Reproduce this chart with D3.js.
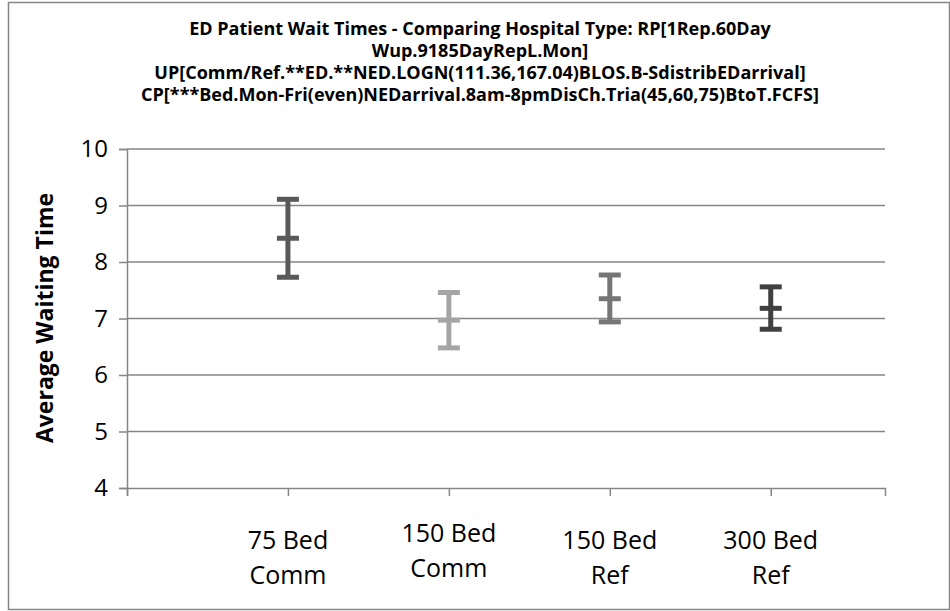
<!DOCTYPE html>
<html>
<head>
<meta charset="utf-8">
<script src="https://cdn.jsdelivr.net/npm/d3@7"></script>
<style>
  body { margin: 0; background: #fff; }
  text { font-family: "Open Sans", sans-serif; fill: #000; }
</style>
</head>
<body>
<svg id="chart" width="950" height="611"></svg>
<script>
// data
var categories = [['75 Bed', 'Comm'], ['150 Bed', 'Comm'], ['150 Bed', 'Ref'], ['300 Bed', 'Ref']];
var highs = [9.11, 7.46, 7.77, 7.56];
var means = [8.42, 6.97, 7.35, 7.18];
var lows  = [7.73, 6.48, 6.94, 6.81];
var yTicks = [4, 5, 6, 7, 8, 9, 10];
var colors = ['#595959', '#a5a5a5', '#767676', '#404040'];
var titleLines = [
  'ED Patient Wait Times - Comparing Hospital Type: RP[1Rep.60Day',
  'Wup.9185DayRepL.Mon]',
  'UP[Comm/Ref.**ED.**NED.LOGN(111.36,167.04)BLOS.B-SdistribEDarrival]',
  'CP[***Bed.Mon-Fri(even)NEDarrival.8am-8pmDisCh.Tria(45,60,75)BtoT.FCFS]'
];

var svg = d3.select('#chart');

// outer frame
svg.append('rect')
  .attr('x', 8.5).attr('y', 2.5)
  .attr('width', 941).attr('height', 607)
  .attr('fill', 'none').attr('stroke', '#868686').attr('stroke-width', 1.5);

var plotL = 127, plotR = 885, plotT = 149, plotB = 488;

var y = d3.scaleLinear().domain([4, 10]).range([plotB, plotT]);
// categories sit at 1..4, ticks at 0..4
var x = d3.scaleLinear().domain([0, 4.71]).range([plotL, plotR]);

// gridlines
svg.append('g').selectAll('line')
  .data(yTicks.slice(1))
  .enter().append('line')
  .attr('x1', plotL).attr('x2', plotR)
  .attr('y1', d => y(d)).attr('y2', d => y(d))
  .attr('stroke', '#868686').attr('stroke-width', 1.5);

// y axis
var yAxis = svg.append('g')
  .attr('transform', 'translate(' + plotL + ',0)')
  .call(d3.axisLeft(y).tickValues(yTicks).tickFormat(d3.format('d')).tickSize(8).tickPadding(11));
yAxis.select('.domain').attr('stroke', '#868686').attr('stroke-width', 1.5);
yAxis.selectAll('.tick line').attr('stroke', '#868686').attr('stroke-width', 1.5);
yAxis.selectAll('text')
  .style('font-size', '24px')
  .style('font-family', '"Open Sans", sans-serif')
  .attr('fill', '#000');

// x axis
var xAxis = svg.append('g')
  .attr('transform', 'translate(0,' + plotB + ')')
  .call(d3.axisBottom(x).tickValues([0, 1, 2, 3, 4]).tickSize(8).tickFormat(''));
xAxis.select('.domain').attr('stroke', '#868686').attr('stroke-width', 1.5);
xAxis.selectAll('.tick line').attr('stroke', '#868686').attr('stroke-width', 1.5);

// category labels
var lab = svg.append('g').selectAll('text')
  .data(categories)
  .enter().append('text')
  .attr('text-anchor', 'middle')
  .style('font-size', '25px')
  .attr('x', (d, i) => x(i + 1))
  .attr('y', (d, i) => i === 1 ? 542 : 549);
lab.append('tspan').text(d => d[0]);
lab.append('tspan').attr('x', (d, i) => x(i + 1)).attr('dy', 35).text(d => d[1]);

// error bars
var bars = svg.append('g').selectAll('g')
  .data(means)
  .enter().append('g')
  .attr('stroke', (d, i) => colors[i])
  .attr('stroke-width', 5);
var cap = 11;
bars.append('line')
  .attr('x1', (d, i) => x(i + 1)).attr('x2', (d, i) => x(i + 1))
  .attr('y1', (d, i) => y(highs[i])).attr('y2', (d, i) => y(lows[i]));
[highs, means, lows].forEach(function(arr) {
  bars.append('line')
    .attr('x1', (d, i) => x(i + 1) - cap).attr('x2', (d, i) => x(i + 1) + cap)
    .attr('y1', (d, i) => y(arr[i])).attr('y2', (d, i) => y(arr[i]));
});

// title
svg.append('g').selectAll('text')
  .data(titleLines)
  .enter().append('text')
  .attr('text-anchor', 'middle')
  .attr('x', 480)
  .attr('y', (d, i) => 35 + i * 22)
  .style('font-size', '18px')
  .style('font-weight', 'bold')
  .text(d => d);

// y title
svg.append('text')
  .attr('transform', 'translate(53,318) rotate(-90)')
  .attr('text-anchor', 'middle')
  .style('font-size', '23px')
  .style('font-weight', 'bold')
  .text('Average Waiting Time');
</script>
</body>
</html>
